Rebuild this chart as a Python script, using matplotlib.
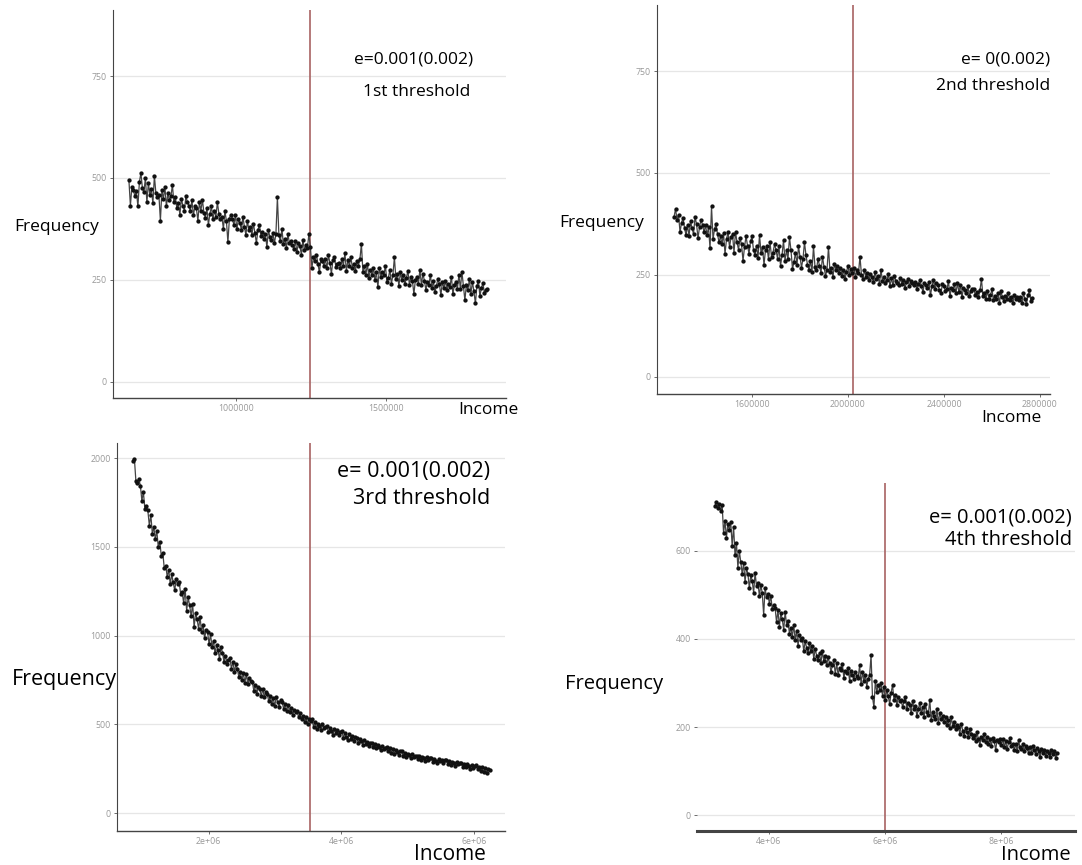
import numpy as np
import matplotlib.pyplot as plt
import matplotlib as mpl

mpl.rcParams.update({
    "font.family": ["Open Sans", "DejaVu Sans"],
    "axes.spines.top": False,
    "axes.spines.right": False,
})

W, H = 1082, 865

# ── Income bins (start, width) and frequency per bin ──
P1_START, P1_STEP = 643000, 5000
P1_FREQ = [
    495, 432, 478, 470, 455, 468, 430, 490, 512, 475,
    465, 500, 440, 488, 458, 472, 438, 505, 462, 452,
    458, 395, 470, 448, 478, 430, 462, 445, 455, 482,
    440, 452, 425, 438, 410, 448, 432, 420, 455, 440,
    432, 418, 446, 408, 430, 425, 395, 440, 420, 446,
    415, 402, 425, 385, 412, 430, 398, 420, 405, 440,
    412, 398, 405, 375, 418, 395, 342, 400, 410, 398,
    385, 408, 375, 398, 390, 372, 405, 380, 360, 395,
    372, 380, 360, 388, 365, 340, 372, 385, 358, 368,
    350, 362, 330, 372, 355, 348, 365, 340, 362, 452,
    360, 345, 375, 338, 350, 328, 362, 340, 345, 335,
    325, 345, 318, 340, 332, 312, 348, 322, 335, 328,
    362, 330, 280, 305, 295, 312, 290, 268, 302, 295,
    285, 300, 278, 310, 292, 265, 298, 305, 282, 290,
    292, 278, 300, 285, 315, 272, 298, 285, 305, 280,
    290, 272, 295, 285, 300, 338, 270, 285, 262, 290,
    255, 275, 262, 278, 250, 268, 232, 280, 258, 270,
    262, 285, 245, 255, 275, 240, 262, 305, 252, 265,
    235, 268, 250, 262, 240, 255, 272, 238, 258, 248,
    215, 250, 258, 240, 275, 238, 265, 248, 225, 245,
    238, 262, 230, 246, 220, 235, 252, 240, 212, 245,
    230, 248, 225, 240, 232, 258, 215, 238, 245, 228,
    262, 228, 270, 235, 200, 238, 225, 252, 215, 245,
    222, 192, 235, 248, 210, 230, 242, 218, 225, 228,
]
P1_THRESHOLD = 1245000

P2_START, P2_STEP = 1275000, 6250
P2_FREQ = [
    392, 412, 385, 398, 355, 378, 390, 365, 348, 372,
    345, 382, 365, 350, 392, 375, 340, 368, 385, 372,
    355, 372, 348, 368, 315, 418, 338, 362, 375, 350,
    330, 345, 325, 352, 302, 338, 355, 318, 342, 350,
    305, 356, 330, 312, 340, 325, 285, 318, 345, 322,
    302, 332, 345, 310, 298, 322, 292, 348, 305, 318,
    275, 312, 320, 288, 330, 295, 305, 325, 312, 290,
    320, 272, 298, 335, 285, 310, 290, 342, 310, 265,
    282, 305, 275, 320, 295, 268, 290, 330, 298, 275,
    262, 285, 258, 320, 270, 262, 290, 272, 255, 295,
    270, 248, 262, 318, 258, 268, 245, 278, 262, 272,
    255, 268, 248, 262, 240, 258, 272, 250, 265, 255,
    268, 245, 262, 255, 295, 250, 240, 262, 245, 255,
    238, 252, 245, 232, 258, 240, 248, 228, 262, 235,
    245, 230, 238, 252, 222, 242, 225, 248, 235, 230,
    225, 242, 228, 238, 218, 232, 240, 222, 235, 230,
    225, 232, 215, 228, 238, 222, 208, 230, 225, 218,
    232, 200, 222, 238, 215, 230, 225, 212, 205, 228,
    222, 210, 215, 235, 198, 218, 212, 228, 205, 230,
    208, 225, 195, 218, 212, 205, 222, 198, 210, 215,
    215, 200, 208, 195, 212, 240, 198, 205, 192, 210,
    192, 200, 215, 188, 198, 192, 205, 180, 210, 195,
    185, 198, 192, 205, 188, 195, 182, 200, 190, 196,
    188, 195, 180, 205, 192, 178, 200, 212, 185, 194,
]
P2_THRESHOLD = 2020000

P3_START, P3_STEP = 857000, 22500
P3_FREQ = [
    1985, 1995, 1870, 1862, 1880, 1845, 1760, 1810, 1715, 1730,
    1705, 1620, 1680, 1575, 1610, 1545, 1590, 1498, 1530, 1450,
    1468, 1380, 1395, 1330, 1372, 1290, 1345, 1300, 1255, 1318,
    1290, 1305, 1232, 1248, 1182, 1265, 1140, 1215, 1170, 1110,
    1180, 1048, 1130, 1092, 1040, 1105, 1020, 1062, 985, 1030,
    1020, 955, 1008, 935, 972, 902, 948, 920, 870, 935,
    905, 852, 888, 840, 862, 872, 815, 852, 798, 838,
    812, 765, 795, 748, 790, 735, 782, 728, 760, 745,
    738, 690, 725, 672, 712, 698, 660, 702, 652, 685,
    672, 630, 660, 618, 648, 602, 655, 625, 598, 640,
    625, 588, 615, 578, 608, 570, 592, 555, 580, 572,
    575, 540, 562, 528, 548, 512, 540, 500, 532, 518,
    528, 488, 515, 475, 505, 492, 470, 500, 478, 485,
    490, 455, 478, 462, 440, 475, 450, 468, 438, 460,
    462, 425, 450, 432, 415, 448, 420, 435, 405, 430,
    425, 395, 418, 408, 385, 412, 392, 402, 380, 398,
    398, 375, 392, 365, 385, 372, 355, 380, 362, 370,
    372, 350, 365, 342, 360, 335, 355, 345, 330, 348,
    348, 325, 342, 318, 335, 328, 310, 332, 315, 322,
    325, 305, 320, 300, 318, 310, 295, 315, 302, 312,
    312, 290, 305, 295, 285, 308, 292, 300, 282, 298,
    302, 280, 295, 272, 290, 285, 268, 288, 275, 282,
    285, 262, 280, 258, 275, 265, 250, 272, 255, 268,
    270, 248, 262, 240, 258, 232, 255, 228, 250, 244,
]
P3_THRESHOLD = 3530000

P4_START, P4_STEP = 3070000, 24700
P4_FREQ = [
    702, 712, 698, 706, 690, 705, 640, 668, 630, 660,
    648, 665, 612, 655, 590, 618, 562, 600, 575, 548,
    572, 530, 560, 548, 515, 545, 532, 505, 550, 520,
    528, 498, 522, 505, 455, 515, 495, 502, 480, 498,
    468, 478, 470, 438, 465, 428, 458, 445, 420, 462,
    432, 440, 412, 425, 405, 432, 398, 418, 385, 410,
    398, 402, 372, 395, 380, 368, 390, 372, 385, 355,
    378, 362, 352, 368, 345, 372, 350, 362, 340, 358,
    345, 325, 340, 352, 320, 345, 318, 335, 330, 342,
    312, 328, 322, 335, 305, 328, 318, 310, 325, 315,
    312, 340, 298, 325, 305, 318, 292, 310, 318, 363,
    268, 245, 305, 280, 295, 285, 300, 270, 292, 262,
    285, 270, 252, 278, 295, 262, 272, 250, 268, 258,
    262, 245, 258, 268, 240, 255, 250, 232, 260, 242,
    248, 225, 240, 255, 232, 245, 222, 252, 235, 228,
    262, 215, 235, 225, 218, 240, 210, 232, 218, 225,
    212, 222, 205, 215, 198, 222, 202, 212, 195, 205,
    200, 185, 208, 192, 180, 198, 188, 178, 195, 185,
    175, 182, 168, 188, 172, 160, 178, 170, 185, 165,
    178, 162, 172, 158, 175, 168, 148, 170, 165, 172,
    160, 172, 155, 168, 150, 165, 175, 158, 162, 148,
    162, 145, 170, 155, 150, 162, 145, 158, 152, 140,
    155, 142, 158, 148, 138, 152, 145, 132, 150, 142,
    148, 135, 145, 140, 132, 148, 138, 145, 130, 142,
]
P4_THRESHOLD = 6000000

LINE_C = "#444444"
DOT_C = "#111111"
THRESH_C = "#a86262"
GRID_C = "#e6e6e6"
TICK_C = "#999999"


def px(x, y):
    return x / W, 1 - y / H


def panel(box, start, step, freq, thresh, xlim, ylim, xticks, xlabels,
          yticks, left_spine=True, bottom_lw=1.0):
    l, t, r, b = box
    ax = fig.add_axes([l / W, 1 - b / H, (r - l) / W, (b - t) / H])
    x = start + step * np.arange(len(freq))
    for yt in yticks:
        ax.axhline(yt, color=GRID_C, lw=0.9, zorder=0)
    ax.axvline(thresh, color=THRESH_C, lw=1.2, zorder=1)
    ax.plot(x, freq, "-", color=LINE_C, lw=0.9, zorder=2)
    ax.plot(x, freq, "o", color=DOT_C, ms=3.1, mew=0, zorder=3)
    ax.set_xlim(*xlim)
    ax.set_ylim(*ylim)
    ax.set_xticks(xticks)
    ax.set_xticklabels(xlabels)
    ax.set_yticks(yticks)
    ax.tick_params(labelsize=6.3, labelcolor=TICK_C, color="#555555",
                   length=2.5, width=0.6, pad=2)
    ax.spines["left"].set_visible(left_spine)
    ax.spines["left"].set_color("#444444")
    ax.spines["bottom"].set_color("#444444")
    ax.spines["bottom"].set_linewidth(bottom_lw)
    ax.patch.set_alpha(0)
    return ax


fig = plt.figure(figsize=(W / 100, H / 100), dpi=100)

panel((113, 10, 506, 398), P1_START, P1_STEP, P1_FREQ, P1_THRESHOLD,
      (590000, 1900000), (-40, 912), [1000000, 1500000],
      ["1000000", "1500000"], [0, 250, 500, 750])
panel((657, 5, 1050, 394), P2_START, P2_STEP, P2_FREQ, P2_THRESHOLD,
      (1204000, 2842000), (-42, 912), [1600000, 2000000, 2400000, 2800000],
      ["1600000", "2000000", "2400000", "2800000"], [0, 250, 500, 750])
panel((117, 443, 505, 831), P3_START, P3_STEP, P3_FREQ, P3_THRESHOLD,
      (617000, 6466000), (-100, 2085), [2000000, 4000000, 6000000],
      ["2e+06", "4e+06", "6e+06"], [0, 500, 1000, 1500, 2000])
panel((697, 483, 1075, 831), P4_START, P4_STEP, P4_FREQ, P4_THRESHOLD,
      (2760000, 9280000), (-36, 754), [4000000, 6000000, 8000000],
      ["4e+06", "6e+06", "8e+06"], [0, 200, 400, 600],
      left_spine=False, bottom_lw=2.2)

# axis titles and threshold notes
fig.text(*px(57, 227), "Frequency", fontsize=12.5, ha="center", va="center")
fig.text(*px(488, 410), "Income", fontsize=12.5, ha="center", va="center")
fig.text(*px(414, 60), "e=0.001(0.002)", fontsize=12.5, ha="center", va="center")
fig.text(*px(417, 92), "1st threshold", fontsize=12.5, ha="center", va="center")

fig.text(*px(602, 223), "Frequency", fontsize=12.5, ha="center", va="center")
fig.text(*px(1011, 418), "Income", fontsize=12.5, ha="center", va="center")
fig.text(*px(1050, 59), "e= 0(0.002)", fontsize=12.5, ha="right", va="center")
fig.text(*px(1050, 86), "2nd threshold", fontsize=12.5, ha="right", va="center")

fig.text(*px(64, 680), "Frequency", fontsize=15.5, ha="center", va="center")
fig.text(*px(450, 855), "Income", fontsize=15, ha="center", va="center")
fig.text(*px(490, 472), "e= 0.001(0.002)", fontsize=15.5, ha="right", va="center")
fig.text(*px(490, 498), "3rd threshold", fontsize=15.5, ha="right", va="center")

fig.text(*px(614, 684), "Frequency", fontsize=14.5, ha="center", va="center")
fig.text(*px(1036, 855), "Income", fontsize=14.5, ha="center", va="center")
fig.text(*px(1072, 517), "e= 0.001(0.002)", fontsize=14.5, ha="right", va="center")
fig.text(*px(1072, 540), "4th threshold", fontsize=14.5, ha="right", va="center")

fig.savefig("out.png", dpi=100)
